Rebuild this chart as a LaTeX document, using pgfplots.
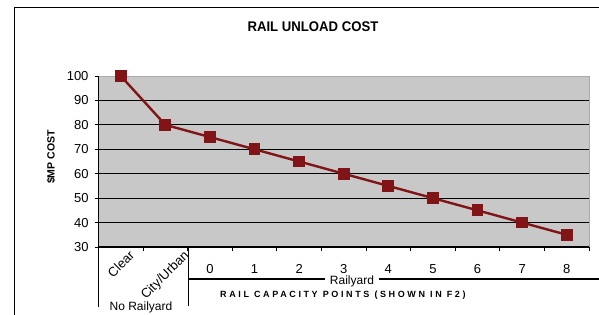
\documentclass[border=0pt]{standalone}
\usepackage{pgfplots}
\pgfplotsset{compat=1.18}
\usepackage{fontspec}
\setmainfont{Liberation Sans}
\newfontfamily\spaced[LetterSpace=29]{Liberation Sans}
\definecolor{plotgray}{RGB}{200,200,200}
\definecolor{borderg}{RGB}{170,170,170}
\definecolor{dred}{RGB}{128,20,22}
\begin{document}
\begin{tikzpicture}[x=1bp,y=1bp]
\useasboundingbox (0,0) rectangle (599,314);
\clip (0,0) rectangle (599,314);
\draw[line width=1.2bp] (14.5,-5) -- (14.5,306.5) -- (605,306.5);
\node[font=\bfseries\fontsize{14bp}{16bp}\selectfont, xscale=0.94] at (313,287) {RAIL UNLOAD COST};
\begin{axis}[
  at={(98.5bp,67bp)}, anchor=south west, scale only axis,
  width=490.5bp, height=171bp,
  xmin=-0.5, xmax=10.5, ymin=30, ymax=100,
  axis background/.style={fill=plotgray},
  axis line style={draw=none},
  clip=false,
  /pgf/number format/assume math mode=true,
  tick label style={font=\fontsize{13bp}{15bp}\selectfont},
  tick align=outside,
  major tick length=4bp, minor tick length=4bp,
  ytick={40,50,...,90},
  extra y ticks={30,100},
  extra y tick style={grid=none},
  ytick pos=left,
  ymajorgrids, grid style={black, line width=1.1bp},
  y tick style={black, line width=1bp},
  yticklabel shift=2.5bp,
  xtick pos=bottom,
  xtick={2,...,10},
  xticklabels={0,1,2,3,4,5,6,7,8},
  major x tick style={draw=none},
  minor xtick={-0.5,0.5,...,10.5},
  minor x tick style={black, line width=1bp},
  xticklabel style={anchor=base},
  xticklabel shift=22bp,
  extra x ticks={0,1},
  extra x tick labels={\rotatebox{45}{Clear},\rotatebox{45}{City/Urban}},
  extra x tick style={major tick length=0pt, xticklabel style={anchor=north, inner sep=0pt}, xticklabel shift=2.5bp},
]
\addplot[dred, line width=2.4bp, mark=square*, mark size=4.7bp, mark options={solid, fill=dred}]
  coordinates {(0,100) (1,80) (2,75) (3,70) (4,65) (5,60) (6,55) (7,50) (8,45) (9,40) (10,35)};
\draw[borderg, line width=1bp] (rel axis cs:0,1) -- (rel axis cs:1,1) -- (rel axis cs:1,0);
\draw[black, line width=1.2bp] (rel axis cs:0,0) -- (rel axis cs:1,0);
\draw[black, line width=1.2bp] (rel axis cs:0,1) -- (rel axis cs:0,0);
\end{axis}
\draw[black, line width=1.2bp] (98.5,67) -- (98.5,7);
\draw[black, line width=1.2bp] (188.7,67) -- (188.7,8.5);
\draw[black, line width=1.2bp] (188.7,35) -- (325,35);
\draw[black, line width=1.2bp] (379,35) -- (605,35);
\node[anchor=base, font=\fontsize{12bp}{14bp}\selectfont, inner sep=0pt] at (352,30) {Railyard};
\node[anchor=base, font=\fontsize{12bp}{14bp}\selectfont, inner sep=0pt] at (141,4) {No Railyard};
\node[anchor=base west, font=\spaced\bfseries\fontsize{9bp}{11bp}\selectfont, inner sep=0pt] at (220,16.3) {RAIL CAPACITY POINTS (SHOWN IN F2)};
\node[rotate=90, font=\bfseries\fontsize{10.5bp}{12bp}\selectfont] at (51,157) {\$MP COST};
\end{tikzpicture}
\end{document}
